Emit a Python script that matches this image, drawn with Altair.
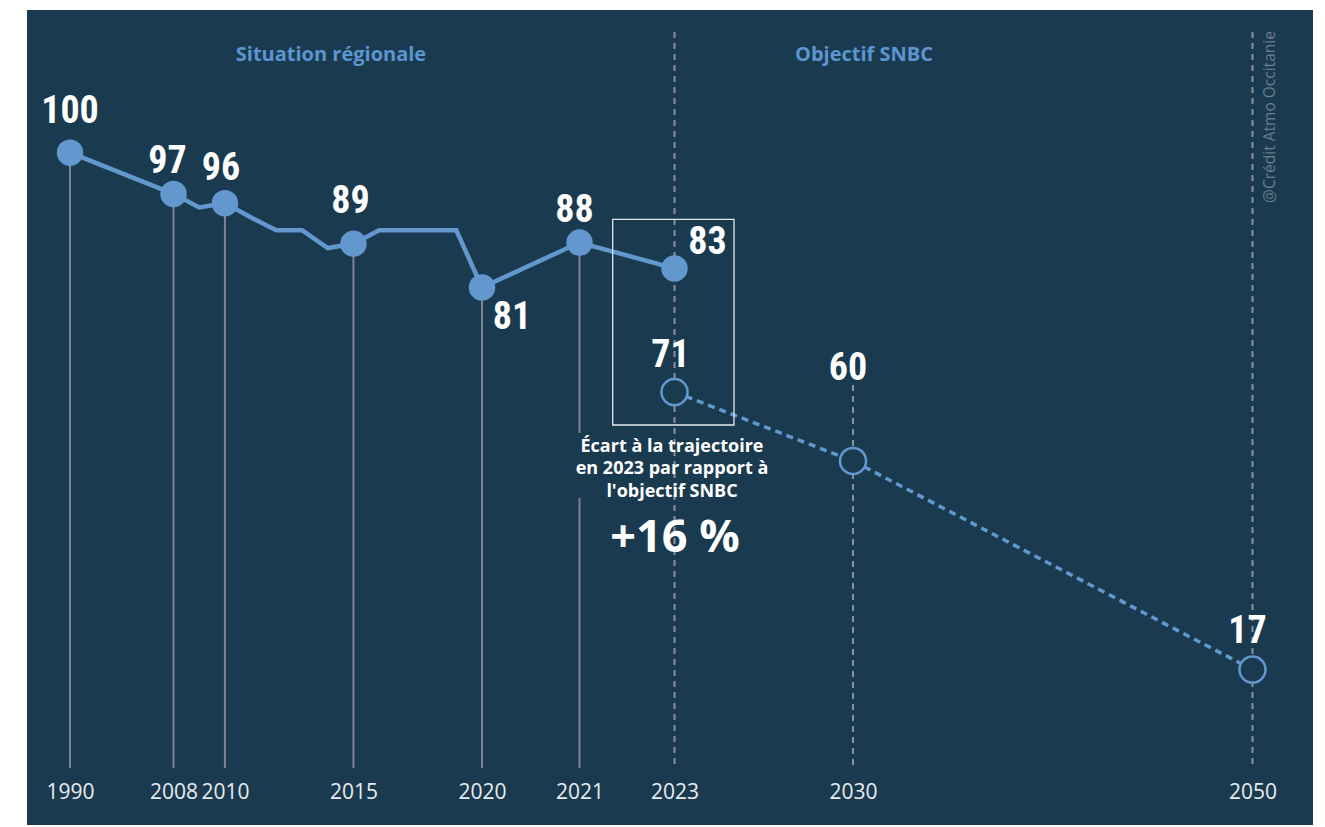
import altair as alt
import pandas as pd

# ---------------- data ----------------
hist_years = [1990, 2008, 2009, 2010, 2011, 2012, 2013, 2014, 2015,
              2016, 2017, 2018, 2019, 2020, 2021, 2023]
hist_values = [100.0, 93.3, 91.1, 91.8, 89.5, 87.4, 87.4, 84.5, 85.2,
               87.4, 87.4, 87.4, 87.4, 78.1, 85.4, 81.2]
point_years = [1990, 2008, 2010, 2015, 2020, 2021, 2023]
point_labels = ["100", "97", "96", "89", "81", "88", "83"]
target_years = [2023, 2030, 2050]
target_values = [61.1, 49.9, 16.0]
target_labels = ["71", "60", "17"]
axis_years = [1990, 2008, 2010, 2015, 2020, 2021, 2023, 2030, 2050]
header_texts = ["Situation régionale", "Objectif SNBC"]
note_lines = ["Écart à la trajectoire", "en 2023 par rapport à", "l'objectif SNBC"]
gap_text = "+16 %"
credit_text = "@Crédit Atmo Occitanie"

# ---------------- styles ----------------
BG = "#1a3a4f"
BLUE = "#6398cf"
HEAD = "#5c95cf"
GREY = "#7f8493"
DASHGREY = "#8d909b"
WHITE = "#ffffff"
NUMFONT = "Roboto Condensed, Arial Narrow, Liberation Sans Narrow, Roboto"
TXTFONT = "Open Sans"

W, H = 1286, 815

hist = pd.DataFrame({"year": hist_years, "value": hist_values})
pts = hist[hist["year"].isin(point_years)].reset_index(drop=True)
pts["label"] = point_labels
tgt = pd.DataFrame({"year": target_years, "value": target_values, "label": target_labels})
one = pd.DataFrame({"k": [0]})

xscale = alt.Scale(domain=[1990, 2008, 2020, 2021, 2023, 2030, 2050],
                   range=[43, 146.5, 455, 552.5, 647.5, 826, 1225.5],
                   nice=False, zero=False)
yscale = alt.Scale(domain=[-9.26, 123.19], nice=False, zero=False)

xaxis = alt.Axis(values=axis_years, format="d", title=None, grid=False, domain=False,
                 ticks=False, labelFontSize=21, labelColor="#e9ecef", labelFont=TXTFONT,
                 labelOverlap=False, labelFlush=False, labelBaseline="middle",
                 labelPadding=0, offset=-33)
X = alt.X("year:Q", scale=xscale, axis=xaxis)
Y = alt.Y("value:Q", scale=yscale, axis=None)

layers = []

# solid drop lines (historical points, except 2021 and 2023)
layers.append(
    alt.Chart(pts).transform_filter(
        alt.FieldOneOfPredicate(field="year", oneOf=[1990, 2008, 2010, 2015, 2020])
    ).transform_calculate(base="0").mark_rule(color=GREY, strokeWidth=2).encode(
        x=X, y=Y, y2=alt.Y2("base:Q"))
)
# 2021 drop line, interrupted behind the note
p2021 = alt.Chart(pts).transform_filter(alt.datum.year == 2021)
layers.append(p2021.mark_rule(color=GREY, strokeWidth=2).encode(x=X, y=Y, y2=alt.value(423)))
layers.append(p2021.mark_rule(color=GREY, strokeWidth=2).encode(
    x=X, y=alt.value(488), y2=alt.value(758)))

# dashed guides
guides = pd.DataFrame({"year": [2023, 2050]})
layers.append(alt.Chart(guides).mark_rule(color=DASHGREY, strokeWidth=2, strokeDash=[6, 5]).encode(
    x=X, y=alt.value(22), y2=alt.value(758)))
layers.append(alt.Chart(tgt).transform_filter(alt.datum.year == 2030).mark_rule(
    color=DASHGREY, strokeWidth=2, strokeDash=[6, 5]).encode(
    x=X, y=alt.value(375), y2=alt.value(758)))

# historical line + points
layers.append(alt.Chart(hist).mark_line(color=BLUE, strokeWidth=4.5).encode(x=X, y=Y))
layers.append(alt.Chart(pts).mark_circle(color=BLUE, opacity=1, size=700).encode(x=X, y=Y))

# target dashed line + open circles
layers.append(alt.Chart(tgt).mark_line(color=BLUE, strokeWidth=3.5, strokeDash=[7, 5]).encode(x=X, y=Y))
layers.append(alt.Chart(tgt).mark_point(shape="circle", filled=True, fill=BG, stroke=BLUE,
                                         strokeWidth=2.5, size=680, opacity=1).encode(x=X, y=Y))

# value labels
pt_off = {1990: (0, -30), 2008: (-6, -21), 2010: (-4, -23), 2015: (-3, -31),
          2020: (30, 42), 2021: (-5, -21), 2023: (33, -14)}
tg_off = {2023: (-4, -25), 2030: (-5, -81), 2050: (-5, -27)}
for src, offs in ((pts, pt_off), (tgt, tg_off)):
    for yr, (dx, dy) in offs.items():
        layers.append(
            alt.Chart(src).transform_filter(alt.datum.year == yr).mark_text(
                font=NUMFONT, fontSize=38, fontWeight="bold", color=WHITE,
                align="center", baseline="alphabetic", dx=dx, dy=dy
            ).encode(x=X, y=Y, text="label:N")
        )

# annotation box
layers.append(alt.Chart(one).mark_rect(fillOpacity=0, stroke="#e3e7ec", strokeWidth=1.3).encode(
    x=alt.value(585.7), x2=alt.value(707), y=alt.value(209.3), y2=alt.value(415)))

# note text
layers.append(alt.Chart(one).mark_text(font=TXTFONT, fontSize=18, fontWeight="bold", color=WHITE,
                                       align="center", baseline="middle", lineHeight=22.5).encode(
    x=alt.value(645), y=alt.value(436.5), text=alt.value(note_lines)))
layers.append(alt.Chart(one).mark_text(font=TXTFONT, fontSize=45, fontWeight="bold", color=WHITE,
                                       align="center", baseline="middle").encode(
    x=alt.value(648), y=alt.value(528), text=alt.value(gap_text)))

# headers
for txt, xpos in zip(header_texts, [304, 837]):
    layers.append(alt.Chart(one).mark_text(font=TXTFONT, fontSize=20, fontWeight="bold", color=HEAD,
                                           align="center", baseline="middle").encode(
        x=alt.value(xpos), y=alt.value(45), text=alt.value(txt)))

# credit
layers.append(alt.Chart(one).mark_text(font=TXTFONT, fontSize=15.5, color="#6c7d8e", angle=270,
                                       align="center", baseline="middle").encode(
    x=alt.value(1243), y=alt.value(107), text=alt.value(credit_text)))

chart = alt.layer(*layers).properties(
    width=W, height=H, background=WHITE,
    padding={"left": 19, "top": 2, "right": 0, "bottom": 0}
).configure_view(fill=BG, stroke=None)

chart.save("out.html", embed_options={"renderer": "svg", "actions": False})
